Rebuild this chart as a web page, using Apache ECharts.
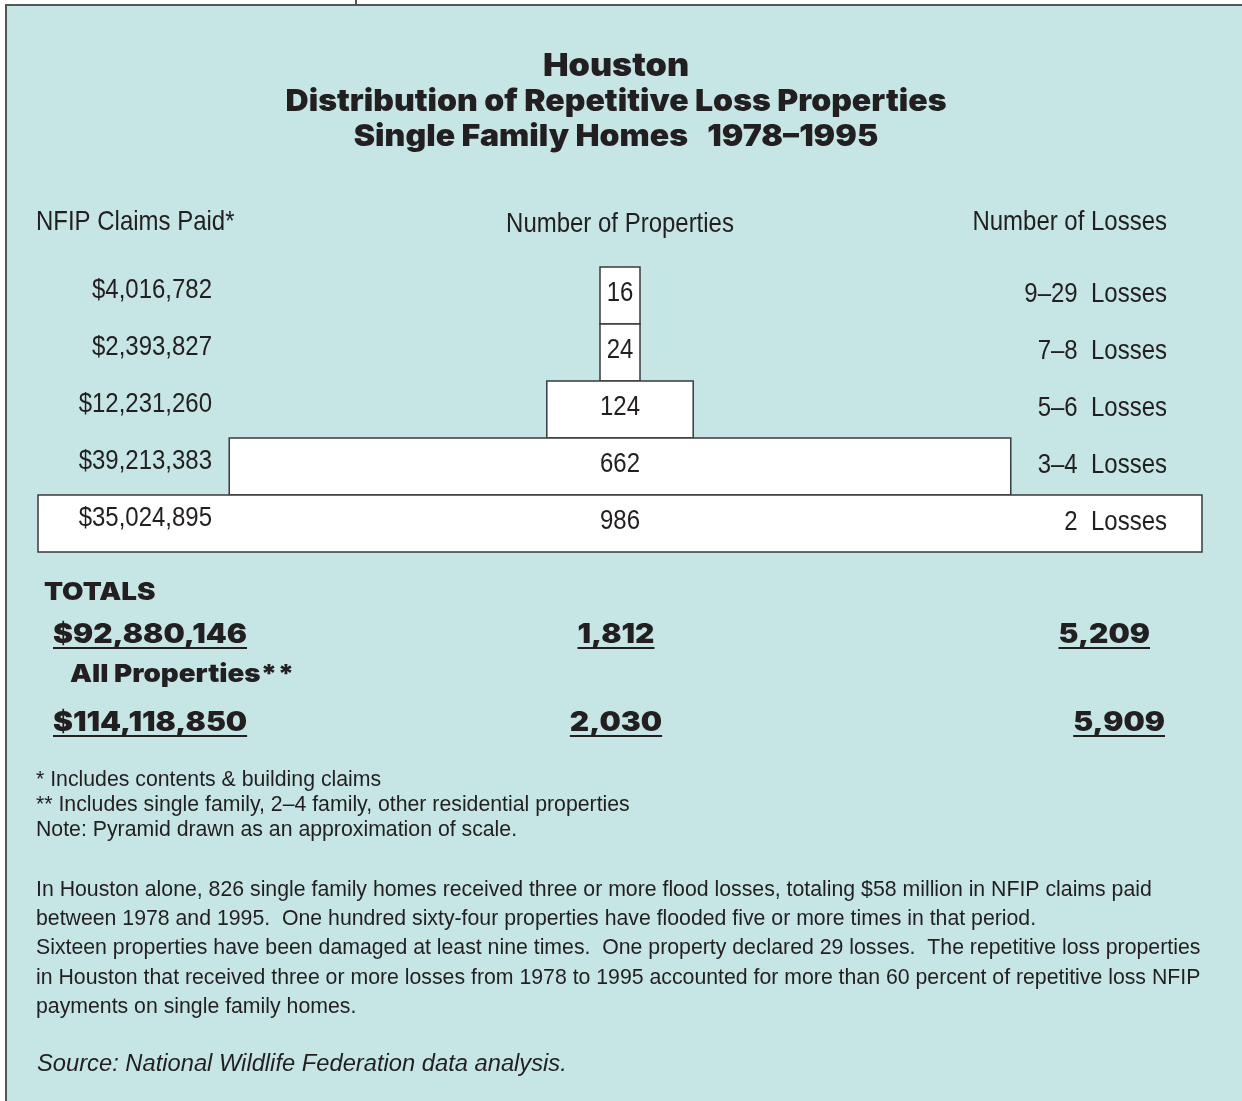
<!DOCTYPE html>
<html>
<head>
<meta charset="utf-8">
<title>Houston – Distribution of Repetitive Loss Properties</title>
<script src="https://cdn.jsdelivr.net/npm/echarts@6/dist/echarts.min.js"></script>
<style>
  html, body { margin: 0; padding: 0; background: #fff; }
  .frame {
    position: absolute; left: 5px; top: 4px; width: 1237px; height: 1097px;
    background: #c5e6e5; border-top: 2px solid #555; border-left: 2px solid #555;
    box-sizing: border-box;
  }
  .tick { position: absolute; left: 355px; top: 0; width: 2px; height: 5px; background: #555; }
  #chart { position: absolute; left: 0; top: 0; width: 1242px; height: 1101px; }
</style>
</head>
<body>
<div class="frame"></div>
<div class="tick"></div>
<div id="chart"></div>
<script>
// data, top row of the pyramid first
const lossGroups = ['9–29', '7–8', '5–6', '3–4', '2']
const propertyCounts = [16, 24, 124, 662, 986]
const claimsPaid = [4016782, 2393827, 12231260, 39213383, 35024895]

const totalClaims = [92880146, 114118850]
const totalProperties = [1812, 2030]
const totalLosses = [5209, 5909]

const titleLines = [
  'Houston',
  'Distribution of Repetitive Loss Properties',
  'Single Family Homes   1978–1995'
]
const columnHeaders = ['NFIP Claims Paid*', 'Number of Properties', 'Number of Losses']
const footnotes = [
  '* Includes contents & building claims',
  '** Includes single family, 2–4 family, other residential properties',
  'Note: Pyramid drawn as an approximation of scale.'
]
const paragraph = [
  'In Houston alone, 826 single family homes received three or more flood losses, totaling $58 million in NFIP claims paid',
  'between 1978 and 1995.  One hundred sixty-four properties have flooded five or more times in that period.',
  'Sixteen properties have been damaged at least nine times.  One property declared 29 losses.  The repetitive loss properties',
  'in Houston that received three or more losses from 1978 to 1995 accounted for more than 60 percent of repetitive loss NFIP',
  'payments on single family homes.'
]
const sourceNote = 'Source: National Wildlife Federation data analysis.'

const ink = '#231f20'
const condFamily = '"Liberation Sans Narrow", "Liberation Sans", Arial, sans-serif'
const heavyFamily = 'Inter, "Liberation Sans", Arial, sans-serif'
const bodyFamily = '"Liberation Sans", Arial, Helvetica, sans-serif'

// canvas measuring, used to squeeze fonts to the widths of the original
const mctx = document.createElement('canvas').getContext('2d')
function measure(text, size, family, weight, style) {
  mctx.font = (style || 'normal') + ' ' + (weight || 'normal') + ' ' + size + 'px ' + family
  return mctx.measureText(text).width
}

const fmtMoney = v => '$' + v.toLocaleString('en-US')
const fmtNum = v => v.toLocaleString('en-US')

// scales
const condSize = 28
const condScale = 120 / measure('$4,016,782', condSize, condFamily)
const titleSize = 30
const titleScale = 661 / measure(titleLines[1], titleSize, heavyFamily, 900)
const totSize = 27
const totScale = 194 / measure(fmtMoney(totalClaims[0]), totSize, heavyFamily, 900)
const bodySize = 20 * 1117 / measure(paragraph[0], 20, bodyFamily)
const sourceSize = 22 * 530 / measure(sourceNote, 22, bodyFamily, 'normal', 'italic')

function txt(text, x, y, o) {
  return {
    type: 'text', x: x, y: y, scaleX: o.scale || 1, silent: true,
    style: {
      text: text, fill: ink,
      fontSize: o.size, fontFamily: o.family, fontWeight: o.weight || 'normal',
      fontStyle: o.italic ? 'italic' : 'normal',
      align: o.align || 'left', verticalAlign: 'middle'
    }
  }
}

function underlined(text, x, y, align, out) {
  const w = measure(text, totSize, heavyFamily, 900) * totScale
  out.push(txt(text, x, y, { size: totSize, family: heavyFamily, weight: 900, scale: totScale, align: align }))
  let x0 = x
  if (align === 'center') x0 = x - w / 2
  if (align === 'right') x0 = x - w
  out.push({
    type: 'line', silent: true,
    shape: { x1: x0, y1: y + 13, x2: x0 + w, y2: y + 13 },
    style: { stroke: ink, lineWidth: 2 }
  })
}

const graphics = []
// title
graphics.push(txt(titleLines[0], 616, 66, { size: 32, family: heavyFamily, weight: 900, scale: titleScale, align: 'center' }))
graphics.push(txt(titleLines[1], 616, 102, { size: titleSize, family: heavyFamily, weight: 900, scale: titleScale, align: 'center' }))
graphics.push(txt(titleLines[2], 616, 137, { size: titleSize, family: heavyFamily, weight: 900, scale: titleScale, align: 'center' }))
// column headers
const condOpt = a => ({ size: condSize, family: condFamily, scale: condScale, align: a })
graphics.push(txt(columnHeaders[0], 36, 222, condOpt('left')))
graphics.push(txt(columnHeaders[1], 620, 224, condOpt('center')))
graphics.push(txt(columnHeaders[2], 1167, 222, condOpt('right')))
// totals
graphics.push(txt('TOTALS', 44, 592, { size: 25, family: heavyFamily, weight: 900, scale: totScale }))
graphics.push(txt('All Properties**', 70, 674, { size: 25, family: heavyFamily, weight: 900, scale: totScale }))
const totalRowsY = [635, 723]
const lossRight = [1150, 1165]
totalRowsY.forEach((y, i) => {
  underlined(fmtMoney(totalClaims[i]), 53, y, 'left', graphics)
  underlined(fmtNum(totalProperties[i]), 616, y, 'center', graphics)
  underlined(fmtNum(totalLosses[i]), lossRight[i], y, 'right', graphics)
})
// notes
footnotes.forEach((t, i) => graphics.push(txt(t, 36, 780 + i * 25, { size: bodySize, family: bodyFamily })))
paragraph.forEach((t, i) => graphics.push(txt(t, 36, 890 + i * 29.3, { size: bodySize, family: bodyFamily })))
graphics.push(txt(sourceNote, 37, 1064, { size: sourceSize, family: bodyFamily, italic: true }))

const chart = echarts.init(document.getElementById('chart'), null, { renderer: 'canvas' })

chart.setOption({
  backgroundColor: 'transparent',
  animation: false,
  grid: { left: 38, right: 40, top: 267, bottom: 549 },
  xAxis: { type: 'value', min: -493, max: 493, show: false },
  yAxis: { type: 'category', inverse: true, data: lossGroups, show: false },
  series: [{
    type: 'custom',
    data: propertyCounts.map((v, i) => [v, i]),
    encode: { x: 0, y: 1 },
    renderItem: function (params, api) {
      const i = params.dataIndex
      const count = api.value(0)
      const c = api.coord([0, i])
      const band = api.size([0, 1])[1]
      // pyramid is "an approximation of scale": keep small boxes wide enough for their label
      const w = Math.max(api.size([count, 0])[0], 40)
      return {
        type: 'group',
        children: [
          {
            type: 'rect',
            shape: { x: c[0] - w / 2, y: c[1] - band / 2, width: w, height: band },
            style: { fill: '#fff', stroke: '#3a3a3a', lineWidth: 1.5 }
          },
          txt(String(count), c[0], c[1] - 2, condOpt('center')),
          txt(fmtMoney(claimsPaid[i]), 212, c[1] - 5, condOpt('right')),
          txt(lossGroups[i] + '  Losses', 1167, c[1] - 1, condOpt('right'))
        ]
      }
    }
  }],
  graphic: graphics
})
</script>
</body>
</html>
